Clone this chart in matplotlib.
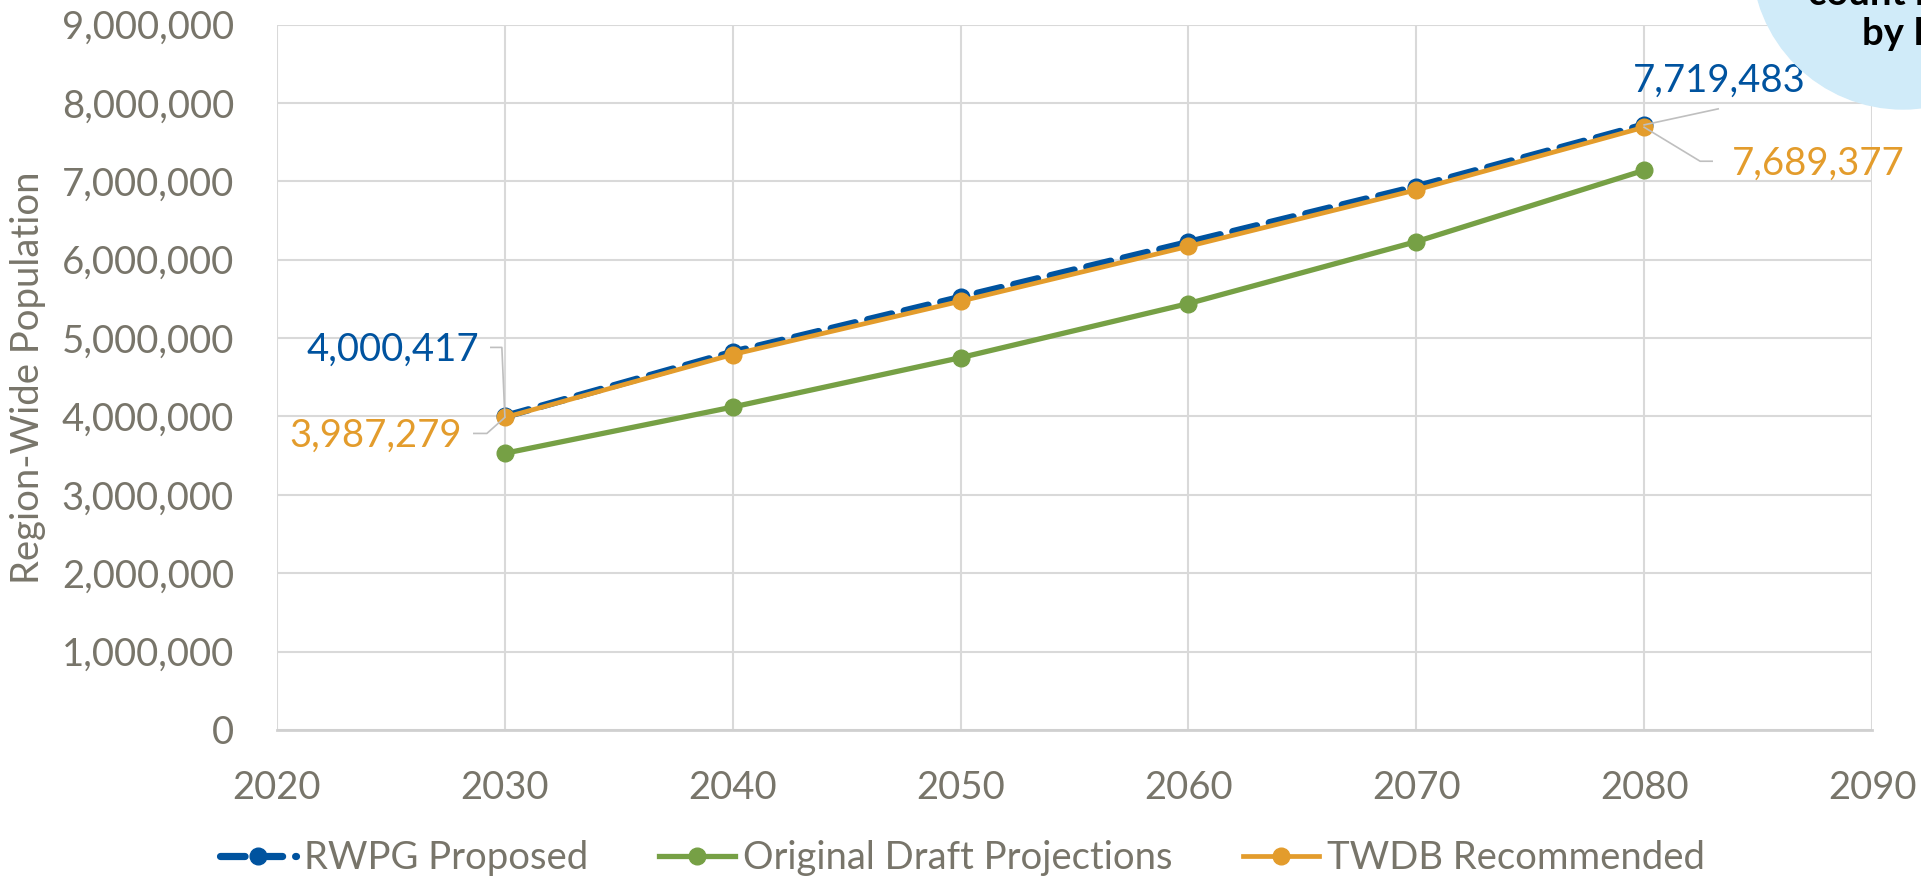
import matplotlib
matplotlib.use('Agg')
import matplotlib.pyplot as plt
from matplotlib.patches import Ellipse
from matplotlib.lines import Line2D
from matplotlib.ticker import FuncFormatter

plt.rcParams['font.family'] = ['Lato', 'DejaVu Sans']

# data
years = [2030, 2040, 2050, 2060, 2070, 2080]
rwpg = [4000417, 4820000, 5520000, 6220000, 6930000, 7719483]
orig = [3530000, 4120000, 4750000, 5440000, 6230000, 7140000]
twdb = [3987279, 4790000, 5470000, 6170000, 6890000, 7689377]
names = ['RWPG Proposed', 'Original Draft Projections', 'TWDB Recommended']

blue = '#00539F'
green = '#76A045'
orange = '#E39C2C'
gray = '#78756A'
fs = 27.5

fig = plt.figure(figsize=(19.21, 8.82), dpi=100)
ax = fig.add_axes([277/1921, 1 - 730/882, (1872-277)/1921, (730-24.5)/882])

ax.plot(years, rwpg, color=blue, lw=5.2, ls=(0, (3.4, 1.8)), dash_capstyle='round',
        marker='o', ms=12, label=names[0], zorder=3)
ax.plot(years, orig, color=green, lw=3.8, marker='o', ms=12, label=names[1], zorder=3)
ax.plot(years, twdb, color=orange, lw=3.4, marker='o', ms=12, label=names[2], zorder=4)

ax.set_xlim(2020, 2090)
ax.set_ylim(0, 9000000)
ax.set_xticks(range(2020, 2091, 10))
ax.set_yticks(range(0, 9000001, 1000000))
ax.yaxis.set_major_formatter(FuncFormatter(lambda v, p: f'{int(v):,}'))
ax.grid(True, color='#D9D9D9', lw=1.5)
ax.set_axisbelow(True)
for s in ['top', 'right', 'left']:
    ax.spines[s].set_visible(False)
ax.spines['bottom'].set_color('#D0D0D0')
ax.spines['bottom'].set_linewidth(2)
ax.tick_params(axis='x', length=0, pad=29, labelsize=fs, labelcolor=gray)
ax.tick_params(axis='y', length=0, pad=31, labelsize=fs, labelcolor=gray)
ax.set_ylabel('Region-Wide Population', fontsize=fs, color=gray)
ax.yaxis.set_label_coords(-0.145, 0.5)

# data labels with leader lines (pixel offsets from the point)
def label(x, y, txt, col, off, ha, leader):
    ax.annotate(txt, (x, y), xytext=off, textcoords='offset pixels',
                ha=ha, va='center', fontsize=fs, color=col, zorder=5)
    px, py = ax.transData.transform((x, y))
    xs = [px + dx for dx, dy in leader]
    ys = [py + dy for dx, dy in leader]
    fig.add_artist(Line2D(xs, ys, transform=None, color='#BFBFBF', lw=1.2, zorder=2))

fig.canvas.draw()
label(years[0], rwpg[0], f'{rwpg[0]:,}', blue, (-26, 67), 'right',
      [(0, 0), (-3, 69), (-14, 69)])
label(years[0], twdb[0], f'{twdb[0]:,}', orange, (-43, -18), 'right',
      [(0, 0), (-18, -16), (-31, -16)])
label(years[-1], rwpg[-1], f'{rwpg[-1]:,}', blue, (75, 44), 'center',
      [(0, 0), (74, 16)])
label(years[-1], twdb[-1], f'{twdb[-1]:,}', orange, (88, -36), 'left',
      [(0, 0), (56, -34), (68, -34)])

leg = fig.legend(loc='center', bbox_to_anchor=(0.501, 1 - 858/882), ncol=3, frameon=False,
                 fontsize=fs, handlelength=2.0, handletextpad=0.2, columnspacing=1.85)
for t in leg.get_texts():
    t.set_color(gray)

# partial callout bubble in the corner
fig.add_artist(Ellipse((1903/1921, 1 + 42/882), 302/1921, 302/882,
                       transform=fig.transFigure, color='#D0EBF9', zorder=6))
fig.text(1808/1921, 1 - 5/882, 'count r', fontsize=fs, weight='bold', color='black',
         va='baseline', zorder=7)
fig.text(1862/1921, 1 - 45/882, 'by R', fontsize=fs, weight='bold', color='black',
         va='baseline', zorder=7)

fig.savefig('out.png', dpi=100)
